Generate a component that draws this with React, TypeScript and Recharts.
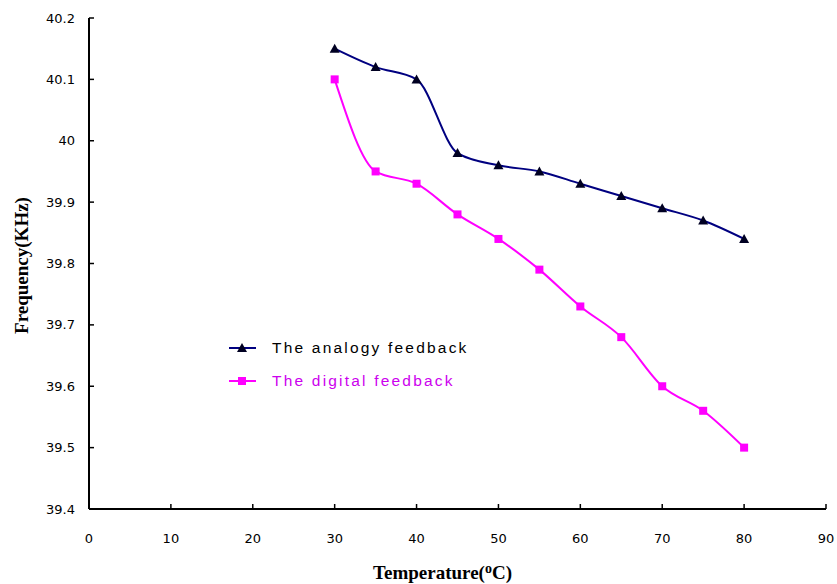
import { LineChart, Line, XAxis, YAxis } from 'recharts';

const temperatures = [30, 35, 40, 45, 50, 55, 60, 65, 70, 75, 80];
const analogyFreq = [40.15, 40.12, 40.1, 39.98, 39.96, 39.95, 39.93, 39.91, 39.89, 39.87, 39.84];
const digitalFreq = [40.1, 39.95, 39.93, 39.88, 39.84, 39.79, 39.73, 39.68, 39.6, 39.56, 39.5];
const xTicks = [0, 10, 20, 30, 40, 50, 60, 70, 80, 90];
const yTicks = [39.4, 39.5, 39.6, 39.7, 39.8, 39.9, 40, 40.1, 40.2];

const data = temperatures.map((t, i) => ({
  temp: t,
  analogy: analogyFreq[i],
  digital: digitalFreq[i],
}));

const NAVY = '#000080';
const MAGENTA = '#ff00ff';

function Triangle(props: any) {
  const { cx, cy } = props;
  if (cx == null || cy == null) return null;
  return (
    <polygon
      key={`t-${cx}`}
      points={`${cx},${cy - 5} ${cx - 5},${cy + 4} ${cx + 5},${cy + 4}`}
      fill="#000022"
    />
  );
}

function Square(props: any) {
  const { cx, cy } = props;
  if (cx == null || cy == null) return null;
  return <rect key={`s-${cx}`} x={cx - 4} y={cy - 4} width={8} height={8} fill={MAGENTA} />;
}

// legend drawn as an overlay so it doesn't eat into the plot area
function LegendBox() {
  const rows = [
    { label: 'The analogy feedback', color: NAVY, text: '#000000', marker: 'tri' },
    { label: 'The digital feedback', color: MAGENTA, text: '#cc00ee', marker: 'sq' },
  ];
  return (
    <div style={{ position: 'absolute', left: 228, top: 331, width: 300 }}>
      {rows.map((r) => (
        <div key={r.label} style={{ display: 'flex', alignItems: 'center', height: 33 }}>
          <svg width={30} height={12} style={{ marginRight: 14 }}>
            <line x1={1} y1={6} x2={28} y2={6} stroke={r.color} strokeWidth={2} />
            {r.marker === 'tri' ? (
              <polygon points="14,1 9,10 19,10" fill="#000022" />
            ) : (
              <rect x={10} y={2} width={8} height={8} fill={MAGENTA} />
            )}
          </svg>
          <span
            style={{
              fontFamily: '"Liberation Sans", Arial, sans-serif',
              fontSize: 15.5,
              letterSpacing: 2.2,
              color: r.text,
            }}
          >
            {r.label}
          </span>
        </div>
      ))}
    </div>
  );
}

function XTitle(props: any) {
  const { viewBox } = props;
  const cx = viewBox.x + viewBox.width / 2;
  return (
    <text
      x={cx - 15}
      y={579}
      textAnchor="middle"
      fontFamily='"Liberation Serif", "Times New Roman", serif'
      fontWeight="bold"
      fontSize={19}
      fill="#000"
    >
      Temperature(
      <tspan dy={-6} fontSize={14}>o</tspan>
      <tspan dy={6}>C)</tspan>
    </text>
  );
}

export default function App() {
  return (
    <div style={{ position: 'absolute', left: 0, top: 0, width: 837, height: 584, background: '#fff' }}>
      <LineChart width={837} height={584} data={data} margin={{ top: 18, right: 11, left: 0, bottom: 0 }}>
        <XAxis
          dataKey="temp"
          type="number"
          domain={[0, 90]}
          ticks={xTicks}
          height={75}
          tickSize={-5}
          tickMargin={30}
          axisLine={{ stroke: '#000', strokeWidth: 2 }}
          tickLine={{ stroke: '#000', strokeWidth: 1.5 }}
          tick={{ fontSize: 13, fill: '#000', fontFamily: '"DejaVu Sans", Tahoma, sans-serif' }}
          label={<XTitle />}
        />
        <YAxis
          type="number"
          domain={[39.4, 40.2]}
          ticks={yTicks}
          width={89}
          tickSize={-5}
          tickMargin={19}
          tickFormatter={(v: number) => String(v)}
          axisLine={{ stroke: '#000', strokeWidth: 2 }}
          tickLine={{ stroke: '#000', strokeWidth: 1.5 }}
          tick={{ fontSize: 13, fill: '#000', fontFamily: '"DejaVu Sans", Tahoma, sans-serif' }}
          label={{
            value: 'Frequency(KHz)',
            angle: -90,
            position: 'insideLeft',
            dx: 16,
            dy: 2,
            style: {
              fontFamily: '"Liberation Serif", "Times New Roman", serif',
              fontWeight: 'bold',
              fontSize: 19,
              fill: '#000',
              textAnchor: 'middle',
            },
          }}
        />
        <Line
          type="monotone"
          dataKey="analogy"
          stroke={NAVY}
          strokeWidth={2}
          dot={<Triangle />}
          activeDot={false}
          isAnimationActive={false}
        />
        <Line
          type="monotone"
          dataKey="digital"
          stroke={MAGENTA}
          strokeWidth={2}
          dot={<Square />}
          activeDot={false}
          isAnimationActive={false}
        />
      </LineChart>
      <LegendBox />
    </div>
  );
}
